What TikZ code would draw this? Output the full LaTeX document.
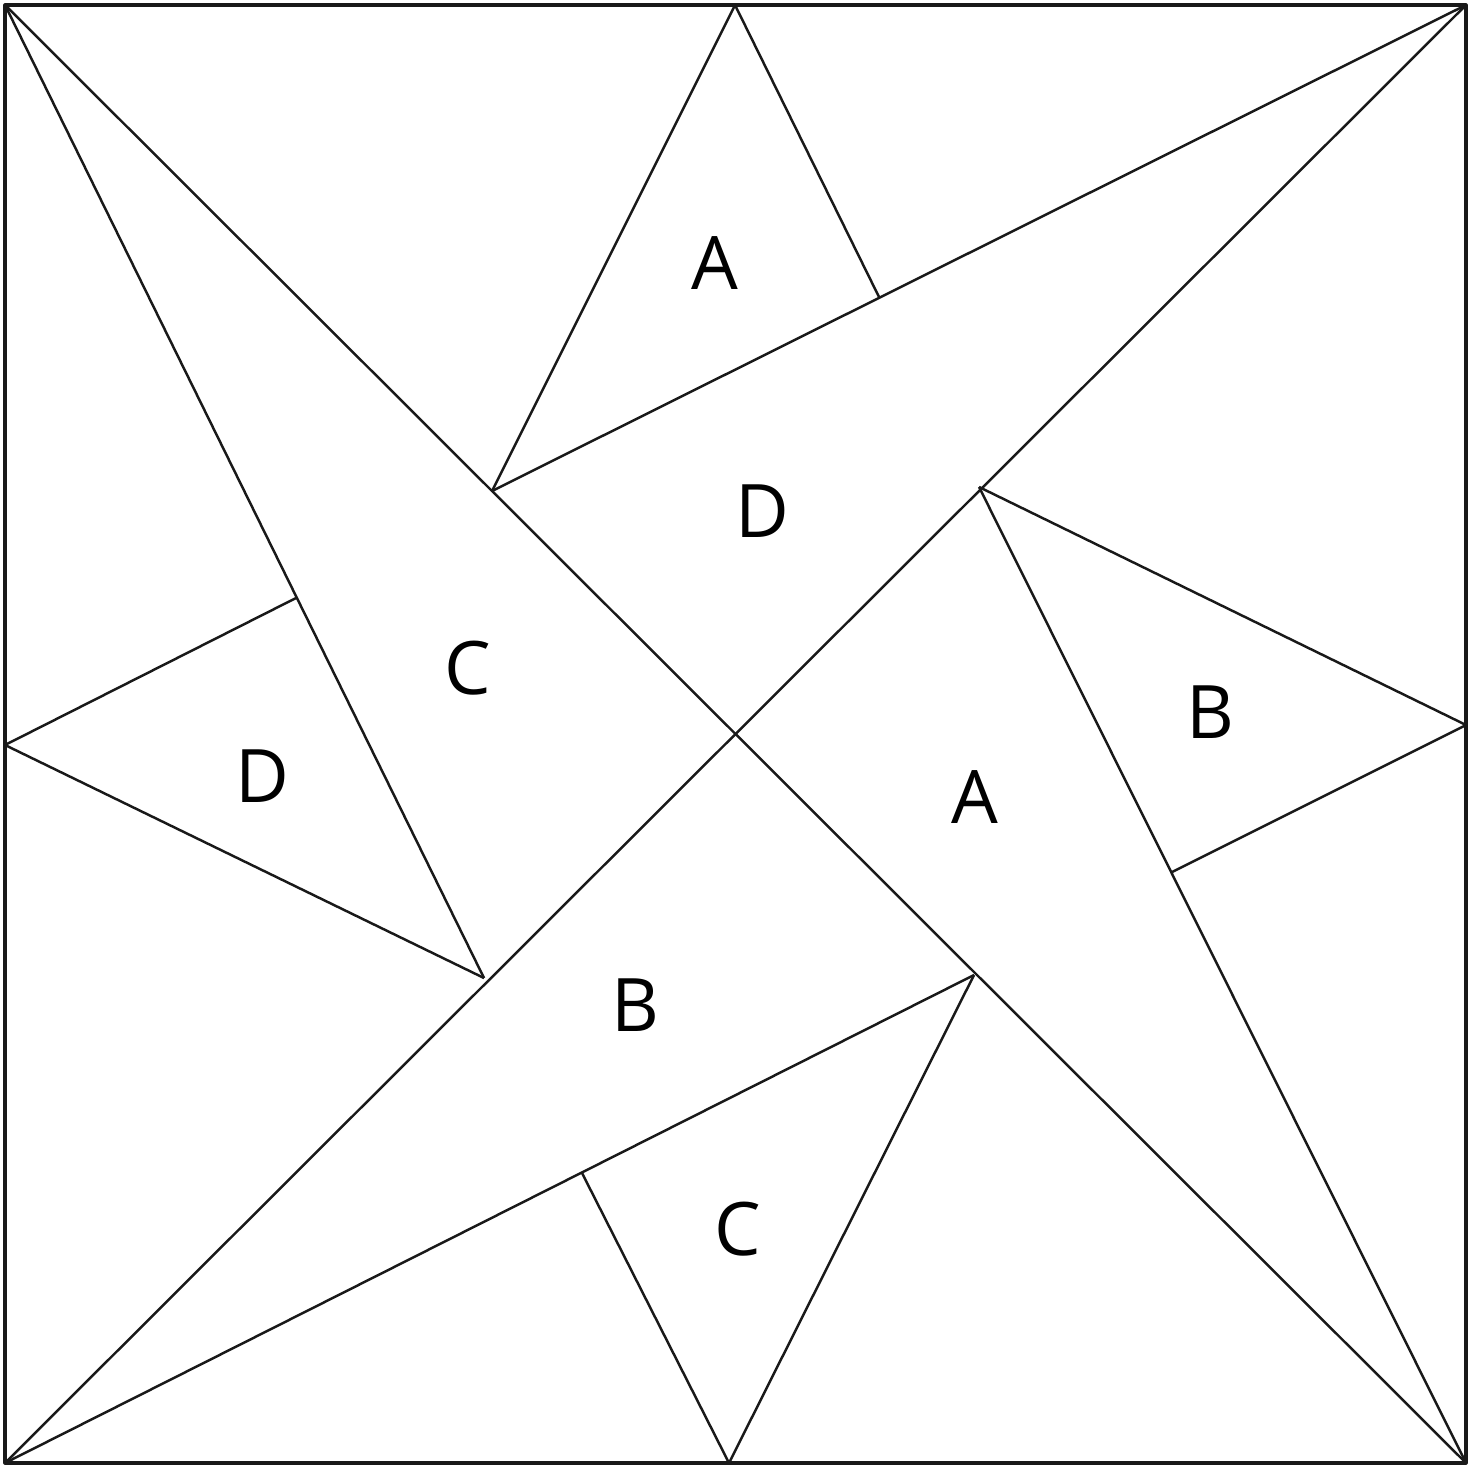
\documentclass[tikz,border=0pt]{standalone}
\usepackage{fontspec}
\setmainfont{Open Sans}
\usetikzlibrary{positioning}
\begin{document}
\begin{tikzpicture}[x=0.01cm, y=-0.01cm, line join=round,
    seam/.style={draw=black!90, line width=0.7pt},
    patch/.style={font=\fontsize{21}{25}\selectfont}]
  \useasboundingbox (0,0) rectangle (1477,1467);

  % corners and edge midpoints
  \coordinate (tl) at (5,5);
  \coordinate (tr) at (1466,5);
  \coordinate (br) at (1466,1463);
  \coordinate (bl) at (5,1463);
  \coordinate (tm) at (735,5);
  \coordinate (rm) at (1466,725);
  \coordinate (bm) at (729,1463);
  \coordinate (lm) at (5,745);

  % star points on the diagonals
  \coordinate (ptl) at (492,491);
  \coordinate (ptr) at (979,487);
  \coordinate (pbr) at (974,975);
  \coordinate (pbl) at (484,978);

  % feet of the side triangles
  \coordinate (ft) at (879,297);
  \coordinate (fr) at (1172,872);
  \coordinate (fb) at (582,1173);
  \coordinate (fl) at (296,598);

  % diagonals
  \draw[seam] (tl) -- (br);
  \draw[seam] (tr) -- (bl);

  % long blades
  \draw[seam] (tl) -- (pbl);
  \draw[seam] (ptl) -- (tr);
  \draw[seam] (ptr) -- (br);
  \draw[seam] (bl) -- (pbr);

  % side triangles
  \draw[seam] (ptl) -- (tm) -- (ft);
  \draw[seam] (ptr) -- (rm) -- (fr);
  \draw[seam] (pbr) -- (bm) -- (fb);
  \draw[seam] (pbl) -- (lm) -- (fl);

  % outer frame
  \draw[black!90, line width=0.9pt] (tl) rectangle (br);

  % patch letters
  \node[patch] (la1) at (715,263) {A};
  \node[patch] (ld1) at (762,511) {D};
  \node[patch] (lc1) at (468,668) {C};
  \node[patch] (ld2) at (262,776) {D};
  \node[patch] (la2) at (975,797) {A};
  \node[patch] (lb1) at (1210,712) {B};
  \node[patch] (lb2) at (635,1005) {B};
  \node[patch] (lc2) at (738,1229) {C};
\end{tikzpicture}
\end{document}
